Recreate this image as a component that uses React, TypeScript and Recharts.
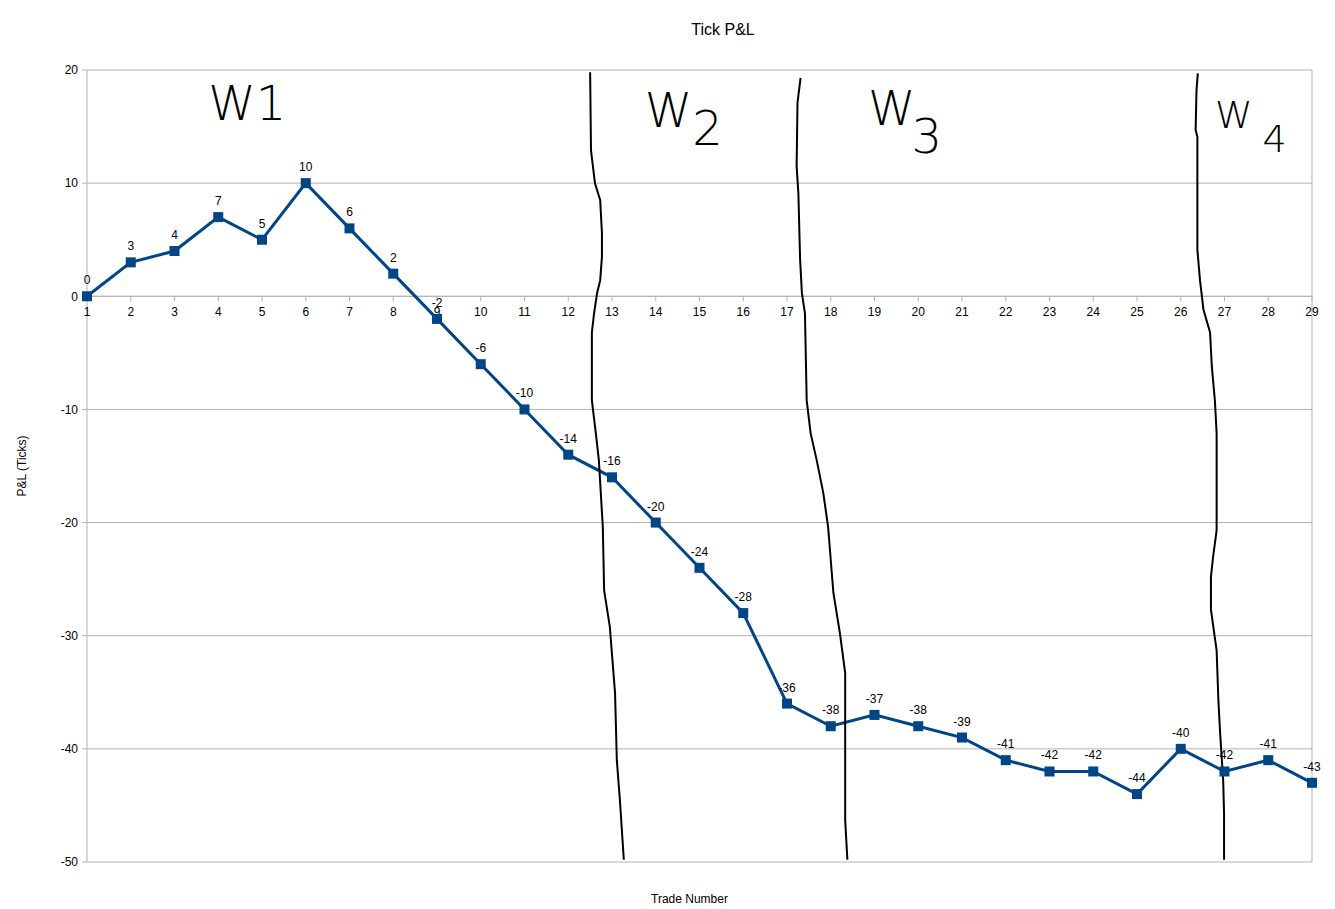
import React from 'react';
import {
  ComposedChart, Line, Scatter, XAxis, YAxis, CartesianGrid, ReferenceLine, LabelList,
} from 'recharts';

// trade number -> cumulative P&L in ticks
const trades = [1, 2, 3, 4, 5, 6, 7, 8, 9, 10, 11, 12, 13, 14, 15, 16, 17, 18, 19, 20, 21, 22, 23, 24, 25, 26, 27, 28, 29];
const pnl = [0, 3, 4, 7, 5, 10, 6, 2, -2, -6, -10, -14, -16, -20, -24, -28, -36, -38, -37, -38, -39, -41, -42, -42, -44, -40, -42, -41, -43];
const yTicks = [-50, -40, -30, -20, -10, 0, 10, 20];

// hand drawn week separators as (trade, pnl)
const sep1X = [12.5, 12.52, 12.61, 12.73, 12.77, 12.77, 12.73, 12.66, 12.59, 12.54, 12.54, 12.63, 12.7, 12.79, 12.82, 12.95, 13.07, 13.11, 13.18, 13.27];
const sep1Y = [19.8, 12.9, 10.0, 8.5, 5.6, 3.5, 1.4, 0.3, -1.5, -3.2, -9.2, -12.1, -14.5, -20.4, -26.0, -29.2, -35.1, -41.0, -44.5, -49.8];
const sep2X = [17.31, 17.24, 17.22, 17.26, 17.3, 17.34, 17.41, 17.45, 17.54, 17.68, 17.83, 17.94, 18.06, 18.21, 18.33, 18.33, 18.38];
const sep2Y = [19.3, 17.1, 11.5, 9.1, 3.2, 0.3, -1.5, -9.2, -12.1, -14.5, -17.4, -20.4, -26.2, -29.8, -33.3, -46.3, -49.8];
const sep3X = [26.39, 26.36, 26.34, 26.38, 26.38, 26.44, 26.52, 26.67, 26.71, 26.78, 26.82, 26.82, 26.74, 26.69, 26.69, 26.82, 26.86, 26.9, 26.97, 26.99, 26.99];
const sep3Y = [19.7, 18.2, 14.7, 14.1, 4.1, 1.4, -1.2, -3.2, -6.2, -9.2, -12.1, -20.7, -23.0, -24.8, -27.7, -31.3, -35.7, -38.6, -42.8, -45.7, -49.8];

// week notes
const weekNames = ['W', 'W', 'W', 'W'];
const weekNums = ['1', '2', '3', '4'];
const weekX = [3.77, 13.75, 18.85, 26.78];
const weekY = [15.6, 14.96, 15.14, 14.87];

const data = trades.map((t, i) => ({ trade: t, pnl: pnl[i] }));
const toPts = (xs: number[], ys: number[]) => xs.map((x, i) => ({ trade: x, pnl: ys[i] }));
const separators = [toPts(sep1X, sep1Y), toPts(sep2X, sep2Y), toPts(sep3X, sep3Y)];
const axisTicks = trades.map((t) => ({ trade: t, pnl: 0 }));
const weeks = weekX.map((x, i) => ({ trade: x, pnl: weekY[i], name: weekNames[i], num: weekNums[i] }));

const FONT = '"Liberation Sans", Arial, sans-serif';
const GRID = '#b3b3b3';
const BLUE = '#004586';

const SquareDot = (props: any) => {
  const { cx, cy, index } = props;
  return <rect key={`d${index}`} x={cx - 5} y={cy - 5} width={10} height={10} fill={BLUE} />;
};

const AxisTick = (props: any) => {
  const { cx, cy, payload } = props;
  return (
    <g>
      <line x1={cx} y1={cy} x2={cx} y2={cy + 5} stroke={GRID} />
      <text x={cx} y={cy + 19.5} textAnchor="middle" fontSize={12} fontFamily={FONT} fill="#000">
        {payload.trade}
      </text>
    </g>
  );
};

const WeekNote = (props: any) => {
  const { cx, cy, payload, index } = props;
  const small = index === 3;
  const dys = [0, 18, 28, 24];
  const dxs = [0, 0, -4, 10];
  return (
    <text x={cx} y={cy} fontSize={small ? 38 : 48} fontFamily='"DejaVu Sans", sans-serif' fontWeight={200} fill="#000">
      {payload.name}
      <tspan dx={dxs[index]} dy={dys[index]}>{payload.num}</tspan>
    </text>
  );
};

const YLabel = (props: any) => {
  const { viewBox } = props;
  const x = viewBox.x + 22;
  const y = viewBox.y + viewBox.height / 2;
  return (
    <text x={x} y={y} transform={`rotate(-90 ${x} ${y})`} textAnchor="middle" dominantBaseline="central"
      fontSize={12} fontFamily={FONT} fill="#000">
      P&amp;L (Ticks)
    </text>
  );
};

export default function App() {
  return (
    <div style={{ position: 'absolute', left: 0, top: 0, width: 1335, height: 909, background: '#fff' }}>
      <div style={{
        position: 'absolute', left: 723, top: 21, transform: 'translateX(-50%)',
        fontFamily: FONT, fontSize: 16, lineHeight: '18px', color: '#000', whiteSpace: 'nowrap',
      }}>
        Tick P&amp;L
      </div>
      <ComposedChart width={1335} height={909} data={data} margin={{ top: 70, right: 23, bottom: 0, left: 0 }}>
        <CartesianGrid vertical={false} stroke={GRID} />
        <XAxis
          type="number"
          dataKey="trade"
          domain={[1, 29]}
          ticks={trades}
          tick={false}
          tickLine={false}
          axisLine={false}
          height={47}
          label={{ value: 'Trade Number', position: 'insideBottom', offset: 6, dx: -10, fontSize: 12, fontFamily: FONT, fill: '#000' }}
        />
        <YAxis
          type="number"
          domain={[-50, 20]}
          ticks={yTicks}
          width={87}
          stroke={GRID}
          tickSize={5}
          tickMargin={4}
          tick={{ fontSize: 12, fontFamily: FONT, fill: '#000' }}
          label={<YLabel />}
        />
        <ReferenceLine x={29} stroke={GRID} />
        <ReferenceLine y={0} stroke={GRID} />
        <Scatter data={axisTicks} dataKey="pnl" shape={<AxisTick />} isAnimationActive={false} />
        <Line
          type="linear"
          dataKey="pnl"
          stroke={BLUE}
          strokeWidth={3}
          dot={<SquareDot />}
          activeDot={false}
          isAnimationActive={false}
        >
          <LabelList dataKey="pnl" position="top" offset={12} fontSize={12} fontFamily={FONT} fill="#000" />
        </Line>
        {separators.map((pts, i) => (
          <Line
            key={`sep${i}`}
            data={pts}
            type="linear"
            dataKey="pnl"
            stroke="#000"
            strokeWidth={2}
            dot={false}
            activeDot={false}
            isAnimationActive={false}
          />
        ))}
        <Scatter data={weeks} dataKey="pnl" shape={<WeekNote />} isAnimationActive={false} />
      </ComposedChart>
    </div>
  );
}
